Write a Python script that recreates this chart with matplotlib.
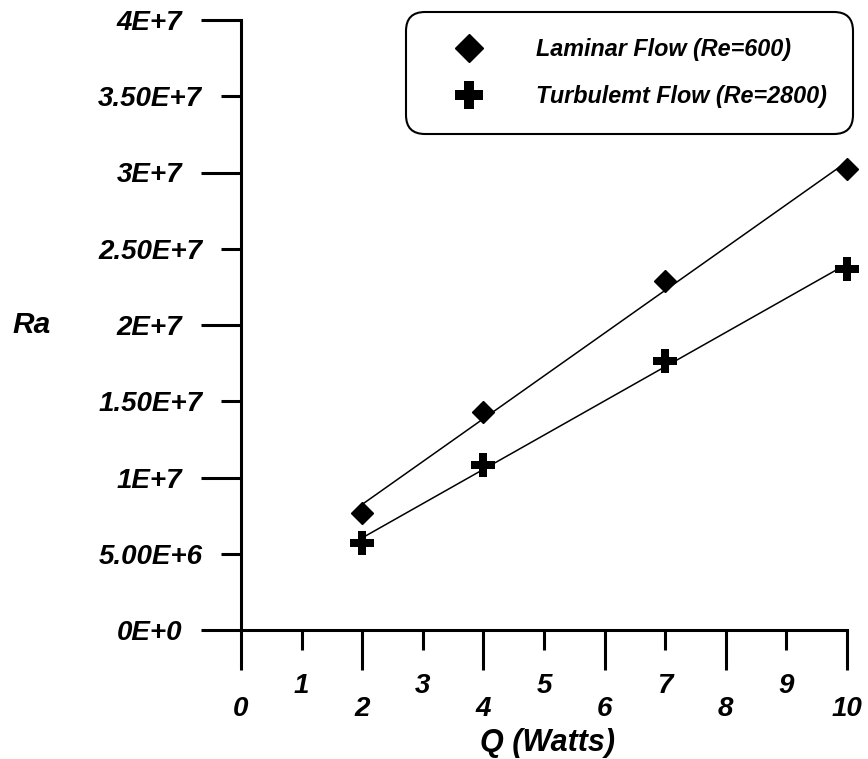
import numpy as np
import matplotlib
matplotlib.use('Agg')
import matplotlib.pyplot as plt

# data
q = [2, 4, 7, 10]
ra_laminar = [7.67e6, 1.43e7, 2.29e7, 3.02e7]
ra_turbulent = [5.70e6, 1.08e7, 1.765e7, 2.37e7]

x_major = [0, 2, 4, 6, 8, 10]
x_minor = [1, 3, 5, 7, 9]
y_major = [0, 1e7, 2e7, 3e7, 4e7]
y_major_labels = ['0E+0', '1E+7', '2E+7', '3E+7', '4E+7']
y_minor = [5e6, 1.5e7, 2.5e7, 3.5e7]
y_minor_labels = ['5.00E+6', '1.50E+7', '2.50E+7', '3.50E+7']

plt.rcParams['font.family'] = 'Liberation Sans'
plt.rcParams['font.weight'] = 'bold'
plt.rcParams['font.style'] = 'italic'

fig = plt.figure(figsize=(8.68, 7.59), dpi=100)
ax = fig.add_axes([241/868, 1 - 630/759, 606/868, 610/759])

# linear fits
q_fit = np.array([min(q), max(q)])
fit_lam = np.polyfit(q, ra_laminar, 1)
fit_tur = np.polyfit(q, ra_turbulent, 1)
ax.plot(q_fit, np.polyval(fit_lam, q_fit), color='black', lw=1.1, zorder=2)
ax.plot(q_fit, np.polyval(fit_tur, q_fit), color='black', lw=1.1, zorder=2)

# points
ax.plot(q, ra_laminar, 'D', color='black', ms=11.5, ls='none', clip_on=False, zorder=3,
        label='Laminar Flow (Re=600)')
ax.plot(q, ra_turbulent, 'P', color='black', ms=17, mew=0, ls='none', clip_on=False, zorder=3,
        label='Turbulemt Flow (Re=2800)')

ax.set_xlim(0, 10)
ax.set_ylim(0, 4e7)

ax.spines['top'].set_visible(False)
ax.spines['right'].set_visible(False)
ax.spines['left'].set_linewidth(2.2)
ax.spines['bottom'].set_linewidth(2.2)

ax.set_xticks(x_major, labels=[str(v) for v in x_major])
ax.set_xticks(x_minor, labels=[str(v) for v in x_minor], minor=True)
ax.set_yticks(y_major, labels=y_major_labels)
ax.set_yticks(y_minor, labels=y_minor_labels, minor=True)

ax.tick_params(axis='x', which='major', length=28.8, width=2.2, pad=19, labelsize=20)
ax.tick_params(axis='x', which='minor', length=14.4, width=2.2, pad=16.5, labelsize=20)
ax.tick_params(axis='y', which='major', length=28.8, width=2.2, pad=13.5, labelsize=20)
ax.tick_params(axis='y', which='minor', length=14.4, width=2.2, pad=13.5, labelsize=20)

# axis titles
fig.text(32/868, 1 - 325/759, 'Ra', ha='center', va='center', fontsize=21.5)
fig.text(547/868, 1 - 743/759, 'Q (Watts)', ha='center', va='center', fontsize=22)

leg = ax.legend(loc='upper left', bbox_to_anchor=(406/868, 1 - 12/759),
                bbox_transform=fig.transFigure, fontsize=16.8, numpoints=1,
                markerscale=1.2, borderpad=1.1, handlelength=3.2,
                handletextpad=1.27, labelspacing=1.05, fancybox=True,
                framealpha=1, edgecolor='black', borderaxespad=0)
leg.get_frame().set_linewidth(1.5)
leg.get_frame().set_boxstyle('round', pad=0, rounding_size=0.8)

fig.savefig('out.png', dpi=100)
